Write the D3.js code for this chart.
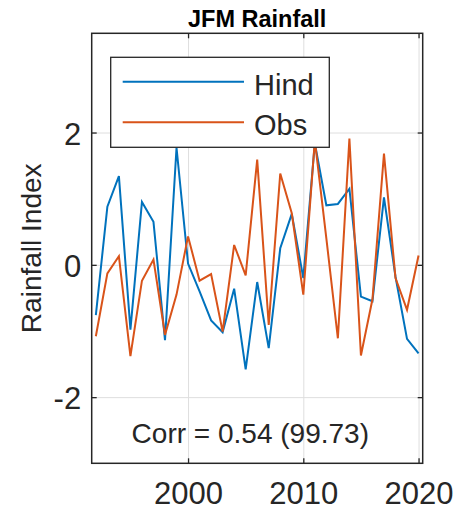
<!DOCTYPE html>
<html>
<head>
<meta charset="utf-8">
<script src="https://d3js.org/d3.v7.min.js"></script>
<style>
  body { margin: 0; background: #fff; }
  svg text { font-family: Arial, "Liberation Sans", Helvetica, sans-serif; fill: #262626; }
  .grid line { stroke: #dedede; stroke-width: 1; }
  .grid .domain { display: none; }
  .ax .domain { display: none; }
  .ax line { stroke: #262626; stroke-width: 1.3; }
</style>
</head>
<body>
<div id="chart"></div>
<script>
// data
var years = [1992, 1993, 1994, 1995, 1996, 1997, 1998, 1999, 2000, 2001,
             2002, 2003, 2004, 2005, 2006, 2007, 2008, 2009, 2010, 2011,
             2012, 2013, 2014, 2015, 2016, 2017, 2018, 2019, 2020];
var hind = [-0.76, 0.88, 1.34, -0.98, 0.95, 0.65, -1.14, 1.77, 0.02, -0.40,
            -0.84, -1.02, -0.36, -1.58, -0.26, -1.26, 0.25, 0.77, -0.20, 1.84,
            0.90, 0.92, 1.15, -0.48, -0.55, 1.02, -0.18, -1.12, -1.34];
var obs = [-1.08, -0.13, 0.13, -1.38, -0.24, 0.08, -1.06, -0.45, 0.43, -0.24,
           -0.14, -1.01, 0.30, -0.16, 1.59, -0.91, 1.38, 0.78, -0.45, 1.88,
           0.40, -1.11, 1.91, -1.37, -0.52, 1.68, -0.20, -0.68, 0.14];
var seriesNames = ["Hind", "Obs"];
var xTicks = [2000, 2010, 2020];
var yTicks = [-2, 0, 2];
var corrText = "Corr = 0.54 (99.73)";
var title = "JFM Rainfall";
var yLabel = "Rainfall Index";

var colors = ["#0072BD", "#D95319"];

// dimensions
var margin = {top: 33.3, right: 31.3, bottom: 48.7, left: 91.7},
    width = 454 - margin.left - margin.right,
    height = 512 - margin.top - margin.bottom;

var svg = d3.select("#chart")
  .append("svg")
    .attr("width", 454)
    .attr("height", 512);

var g = svg.append("g")
    .attr("transform", "translate(" + margin.left + "," + margin.top + ")");

var x = d3.scaleLinear().domain([1991.64, 2020.36]).range([0, width]);
var y = d3.scaleLinear().domain([-3, 3.5]).range([height, 0]);

// plain hyphen minus like matlab
var fmt = function(d) { return String(d); };

// grid
g.append("g").attr("class", "grid")
  .attr("transform", "translate(0," + height + ")")
  .call(d3.axisBottom(x).tickValues(xTicks).tickSize(-height).tickFormat(""));
g.append("g").attr("class", "grid")
  .call(d3.axisLeft(y).tickValues(yTicks).tickSize(-width).tickFormat(""));

// lines
var line = d3.line()
  .x(function(d) { return x(d[0]); })
  .y(function(d) { return y(d[1]); });

[hind, obs].forEach(function(vals, i) {
  g.append("path")
    .datum(years.map(function(yr, j) { return [yr, vals[j]]; }))
    .attr("fill", "none")
    .attr("stroke", colors[i])
    .attr("stroke-width", 2)
    .attr("stroke-linejoin", "miter")
    .attr("d", line);
});

// axes, ticks pointing inwards
var xb = g.append("g").attr("class", "ax")
  .attr("transform", "translate(0," + height + ")")
  .call(d3.axisBottom(x).tickValues(xTicks).tickSize(-5).tickPadding(19).tickFormat(fmt));
xb.selectAll("text").style("font-size", "31px");

g.append("g").attr("class", "ax")
  .call(d3.axisTop(x).tickValues(xTicks).tickSize(-5).tickFormat(""));

var yl = g.append("g").attr("class", "ax")
  .call(d3.axisLeft(y).tickValues(yTicks).tickSize(-5).tickPadding(10.5).tickFormat(fmt));
yl.selectAll("text").style("font-size", "31px").attr("dy", "0.38em");

g.append("g").attr("class", "ax")
  .attr("transform", "translate(" + width + ",0)")
  .call(d3.axisRight(y).tickValues(yTicks).tickSize(-5).tickFormat(""));

// box
g.append("rect")
  .attr("width", width)
  .attr("height", height)
  .attr("fill", "none")
  .attr("stroke", "#262626")
  .attr("stroke-width", 1.5);

// legend
var leg = g.append("g").attr("transform", "translate(19,24)");
leg.append("rect")
  .attr("width", 218.6)
  .attr("height", 90)
  .attr("fill", "#fff")
  .attr("stroke", "#262626")
  .attr("stroke-width", 1.3);
seriesNames.forEach(function(name, i) {
  var ly = 24.4 + i * 40.6;
  leg.append("line")
    .attr("x1", 12).attr("x2", 133.3)
    .attr("y1", ly).attr("y2", ly)
    .attr("stroke", colors[i])
    .attr("stroke-width", 2);
  leg.append("text")
    .attr("x", 143.3)
    .attr("y", ly + 13)
    .style("font-size", "29px")
    .text(name);
});

// correlation text
g.append("text")
  .attr("x", x(2005.4))
  .attr("y", 409.7)
  .attr("text-anchor", "middle")
  .style("font-size", "28px")
  .text(corrText);

// title
svg.append("text")
  .attr("x", margin.left + width / 2)
  .attr("y", 26.7)
  .attr("text-anchor", "middle")
  .style("font-size", "23.5px")
  .style("font-weight", "bold")
  .style("fill", "#000")
  .text(title);

// y label
svg.append("text")
  .attr("transform", "translate(41," + (margin.top + height / 2) + ")rotate(-90)")
  .attr("text-anchor", "middle")
  .style("font-size", "28px")
  .text(yLabel);
</script>
</body>
</html>
